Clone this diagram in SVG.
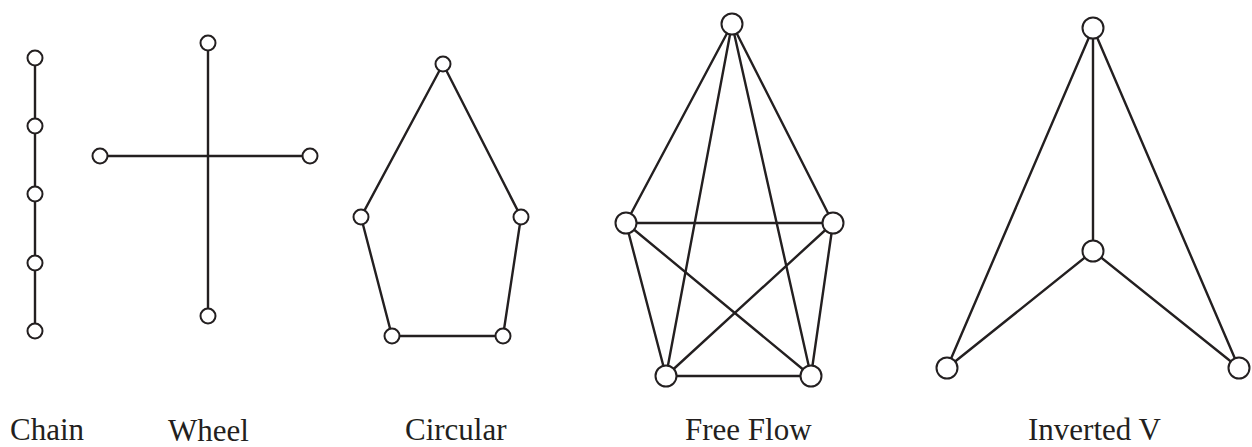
<svg xmlns="http://www.w3.org/2000/svg" width="1252" height="447" viewBox="0 0 1252 447">
<style>
.e{stroke:#231f20;stroke-width:2.4;fill:none;stroke-linecap:round}
.n{fill:#fff;stroke:#231f20;stroke-width:2}
.t{font-family:"Liberation Serif","Times New Roman",serif;font-size:31px;fill:#231f20}
</style>
<rect width="1252" height="447" fill="#fff"/>
<g id="connectors">
<line class="e" x1="35" y1="58" x2="35" y2="331"/>
<line class="e" x1="208" y1="43" x2="208" y2="316"/>
<line class="e" x1="100" y1="156" x2="310" y2="156"/>
<polygon class="e" points="443,64 521,217 503,336 392,336 361,217"/>
<g>
<line class="e" x1="732" y1="24" x2="626" y2="223"/>
<line class="e" x1="732" y1="24" x2="833" y2="223"/>
<line class="e" x1="732" y1="24" x2="666" y2="376"/>
<line class="e" x1="732" y1="24" x2="811" y2="376"/>
<line class="e" x1="626" y1="223" x2="833" y2="223"/>
<line class="e" x1="626" y1="223" x2="666" y2="376"/>
<line class="e" x1="626" y1="223" x2="811" y2="376"/>
<line class="e" x1="833" y1="223" x2="811" y2="376"/>
<line class="e" x1="833" y1="223" x2="666" y2="376"/>
<line class="e" x1="666" y1="376" x2="811" y2="376"/>
</g>
<g>
<line class="e" x1="1093" y1="28" x2="1093" y2="251"/>
<line class="e" x1="1093" y1="28" x2="947" y2="368"/>
<line class="e" x1="1093" y1="28" x2="1239" y2="368"/>
<line class="e" x1="1093" y1="251" x2="947" y2="368"/>
<line class="e" x1="1093" y1="251" x2="1239" y2="368"/>
</g>
</g>
<g id="chain">
<circle class="n" cx="35" cy="58" r="7.5"/>
<circle class="n" cx="35" cy="126" r="7.5"/>
<circle class="n" cx="35" cy="194" r="7.5"/>
<circle class="n" cx="35" cy="263" r="7.5"/>
<circle class="n" cx="35" cy="331" r="7.5"/>
<text class="t" x="10" y="440">Chain</text>
</g>
<g id="wheel">
<circle class="n" cx="208" cy="43" r="7.5"/>
<circle class="n" cx="208" cy="316" r="7.5"/>
<circle class="n" cx="100" cy="156" r="7.5"/>
<circle class="n" cx="310" cy="156" r="7.5"/>
<text class="t" x="168" y="441">Wheel</text>
</g>
<g id="circular">
<circle class="n" cx="443" cy="64" r="7.5"/>
<circle class="n" cx="361" cy="217" r="7.5"/>
<circle class="n" cx="521" cy="217" r="7.5"/>
<circle class="n" cx="392" cy="336" r="7.5"/>
<circle class="n" cx="503" cy="336" r="7.5"/>
<text class="t" x="405" y="440">Circular</text>
</g>
<g id="freeflow">
<circle class="n" cx="732" cy="24" r="10.5"/>
<circle class="n" cx="626" cy="223" r="10.5"/>
<circle class="n" cx="833" cy="223" r="10.5"/>
<circle class="n" cx="666" cy="376" r="10.5"/>
<circle class="n" cx="811" cy="376" r="10.5"/>
<text class="t" x="685" y="440">Free Flow</text>
</g>
<g id="invertedv">
<circle class="n" cx="1093" cy="28" r="10.5"/>
<circle class="n" cx="1093" cy="251" r="10.5"/>
<circle class="n" cx="947" cy="368" r="10.5"/>
<circle class="n" cx="1239" cy="368" r="10.5"/>
<text class="t" x="1028" y="440">Inverted V</text>
</g>
</svg>
